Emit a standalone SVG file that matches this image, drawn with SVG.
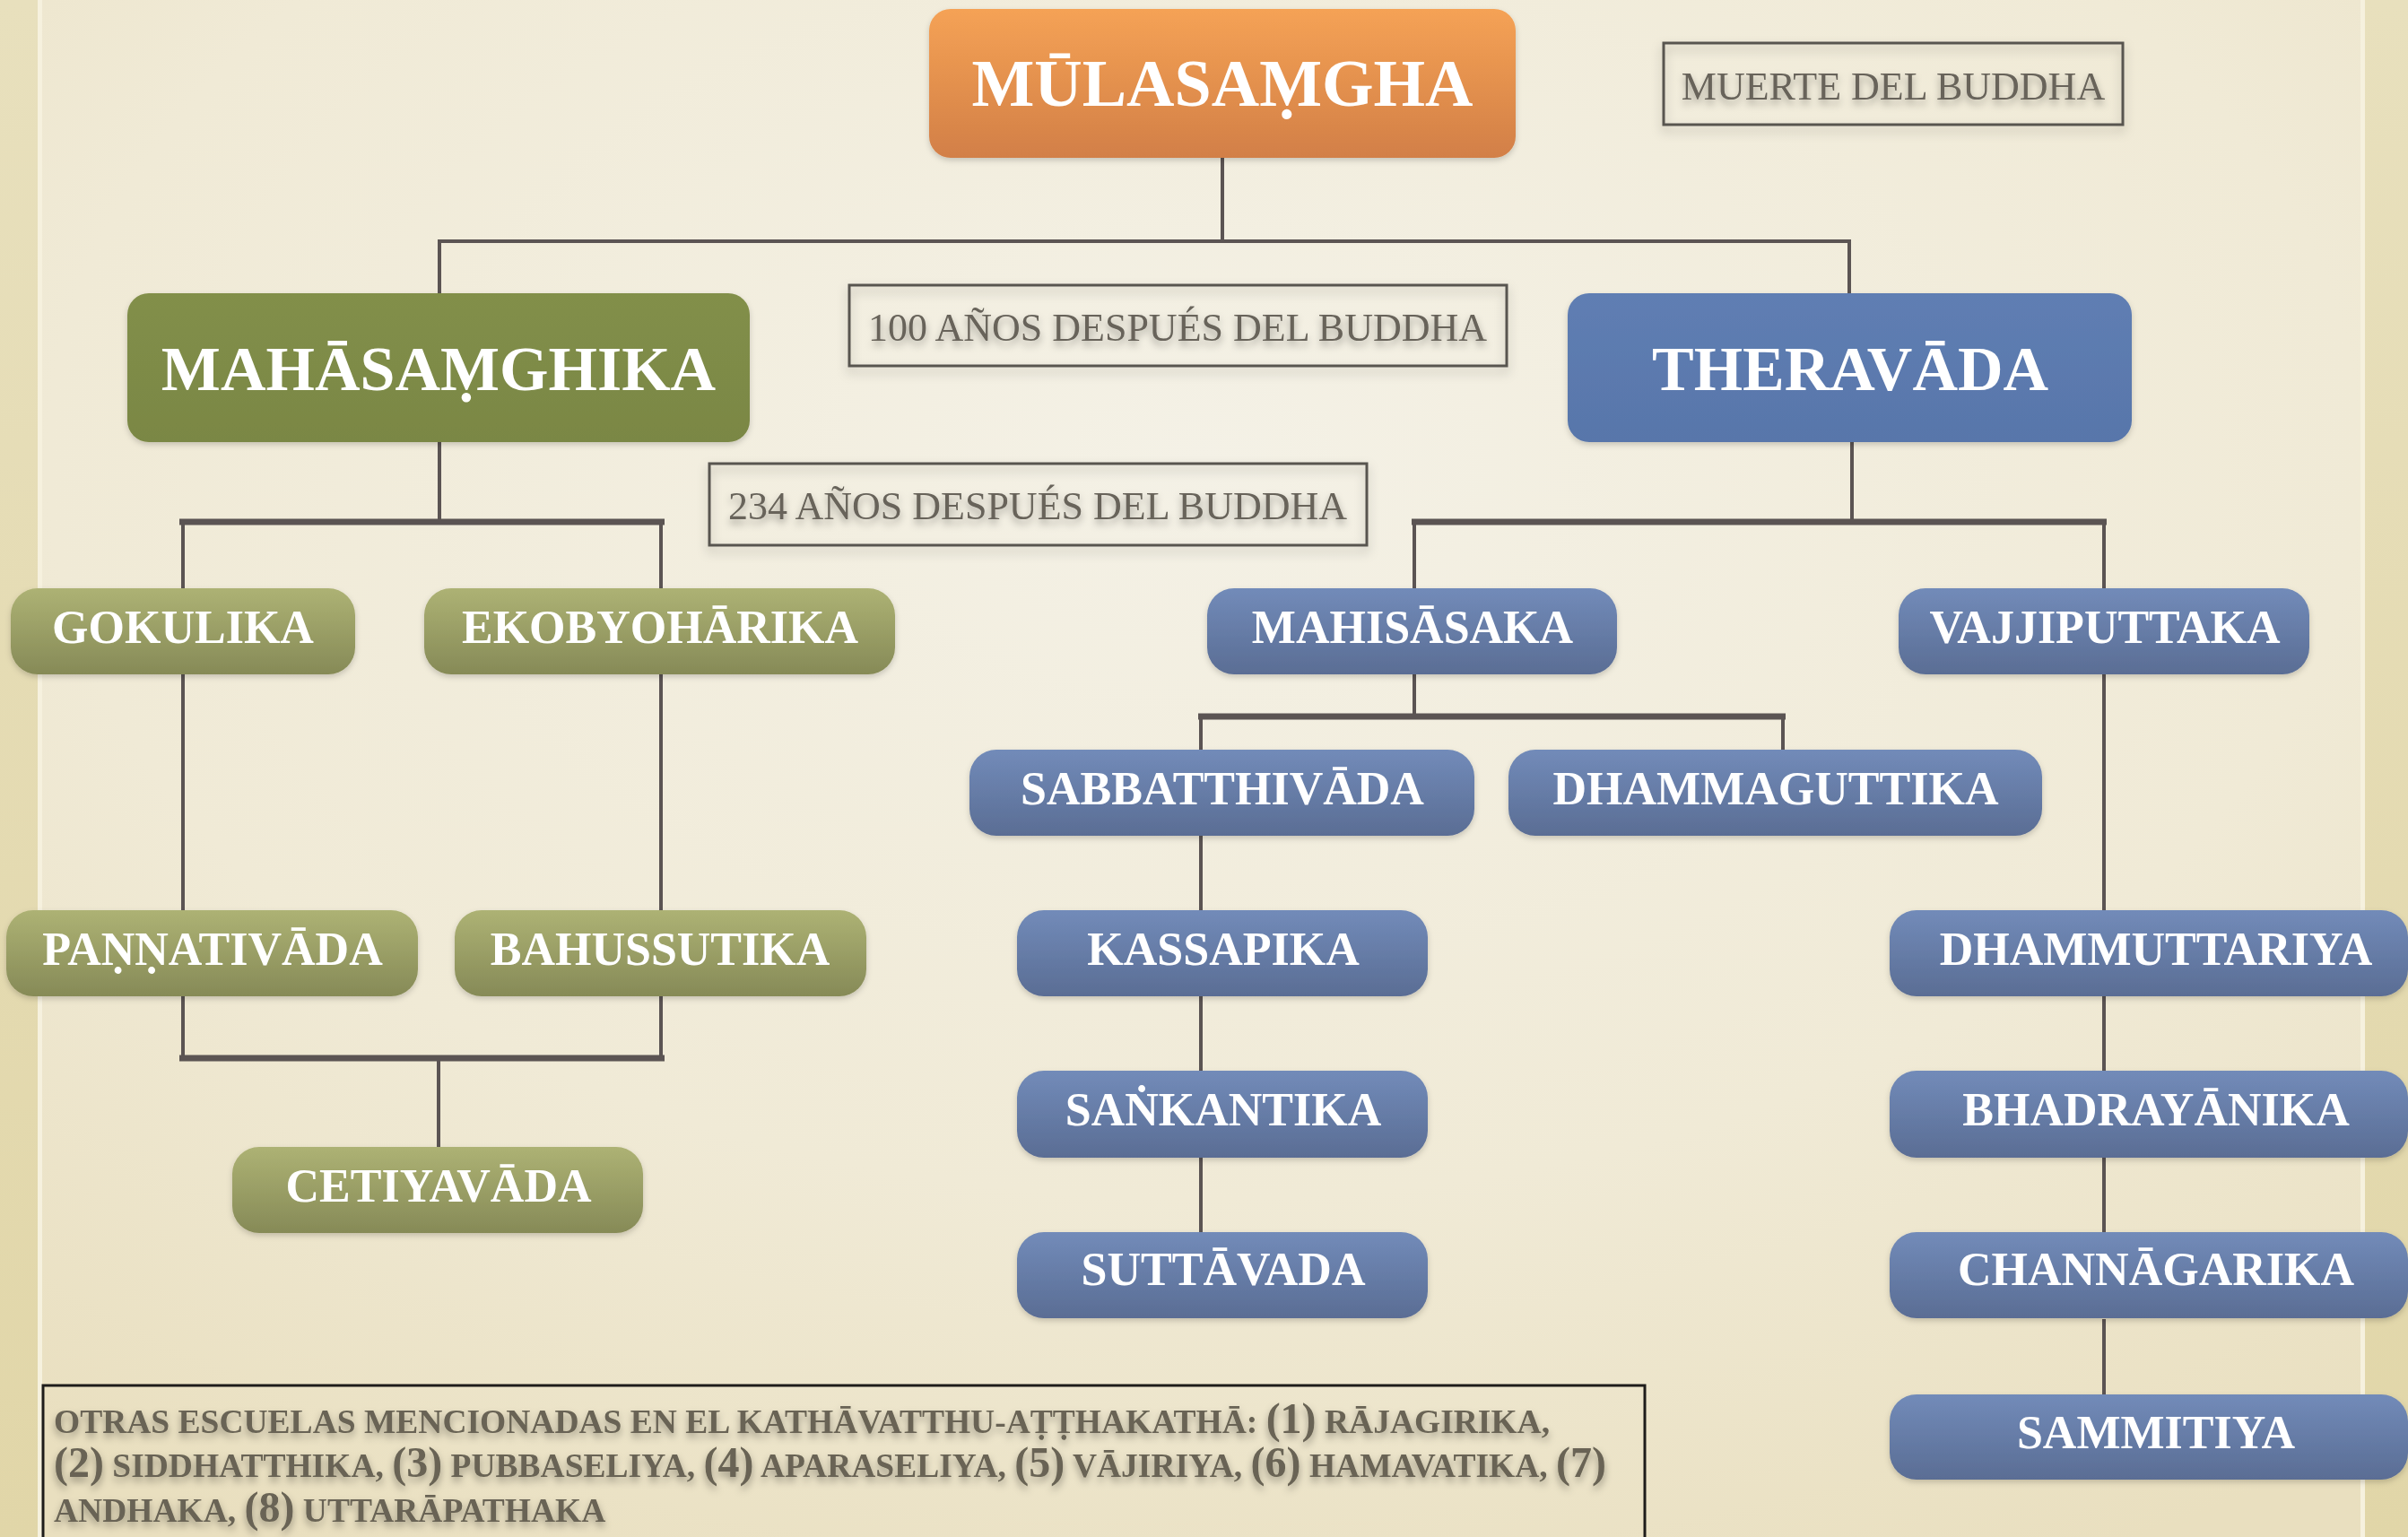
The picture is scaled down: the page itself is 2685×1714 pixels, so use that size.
<svg xmlns="http://www.w3.org/2000/svg" width="2685" height="1714" viewBox="0 0 2685 1714">
<defs>
<radialGradient id="bg" cx="0.5" cy="0.3" r="0.8">
<stop offset="0" stop-color="#f4f1e6"/>
<stop offset="0.6" stop-color="#f0ead6"/>
<stop offset="1" stop-color="#e9dfbf"/>
</radialGradient>
<linearGradient id="strip" x1="0" y1="0" x2="0" y2="1">
<stop offset="0" stop-color="#e8e0bd"/>
<stop offset="1" stop-color="#e1d6a8"/>
</linearGradient>
<linearGradient id="gO" x1="0" y1="0" x2="0" y2="1">
<stop offset="0" stop-color="#f5a255"/>
<stop offset="1" stop-color="#d27f47"/>
</linearGradient>
<linearGradient id="gG" x1="0" y1="0" x2="0" y2="1">
<stop offset="0" stop-color="#adb274"/>
<stop offset="1" stop-color="#868a57"/>
</linearGradient>
<linearGradient id="gB" x1="0" y1="0" x2="0" y2="1">
<stop offset="0" stop-color="#728bb9"/>
<stop offset="1" stop-color="#5a6d94"/>
</linearGradient>
<linearGradient id="gGB" x1="0" y1="0" x2="0" y2="1">
<stop offset="0" stop-color="#828f4a"/>
<stop offset="1" stop-color="#7a8744"/>
</linearGradient>
<linearGradient id="gBB" x1="0" y1="0" x2="0" y2="1">
<stop offset="0" stop-color="#5f7eb3"/>
<stop offset="1" stop-color="#5876aa"/>
</linearGradient>
<filter id="ts" x="-10%" y="-30%" width="120%" height="180%">
<feDropShadow dx="0" dy="5" stdDeviation="4" flood-color="#000" flood-opacity="0.35"/>
</filter>
<filter id="bs" x="-10%" y="-30%" width="120%" height="170%">
<feDropShadow dx="0" dy="6" stdDeviation="6" flood-color="#000" flood-opacity="0.25"/>
</filter>
<filter id="ns" x="-5%" y="-10%" width="110%" height="130%">
<feDropShadow dx="0" dy="3" stdDeviation="3" flood-color="#000" flood-opacity="0.18"/>
</filter>
</defs>
<style>
.conn { stroke:#5b5453; fill:none; stroke-width:4; }
.bus { stroke-width:7; }
.nt { font-family:"Liberation Serif","DejaVu Serif",serif; font-weight:bold; fill:#ffffff; text-anchor:middle; font-size:52px; }
.big { font-size:70px; }
.top { font-size:74px; }
.lbl { font-family:"Liberation Serif","DejaVu Serif",serif; font-size:44px; fill:#67635a; text-anchor:middle; filter:url(#ts); }
.lbox { fill:none; stroke:#58544f; stroke-width:3; filter:url(#bs); }
.g { fill:url(#gG); filter:url(#ns); }
.b { fill:url(#gB); filter:url(#ns); }
.note { font-family:"Liberation Serif","DejaVu Serif",serif; font-weight:bold; font-size:37.5px; fill:#696454; filter:url(#ts); }
.d { font-size:48px; }
</style>
<rect x="0" y="0" width="2685" height="1714" fill="url(#bg)"/>
<rect x="0" y="0" width="42" height="1714" fill="url(#strip)"/>
<rect x="42" y="0" width="5" height="1714" fill="#f6f1de"/>
<rect x="2637" y="0" width="48" height="1714" fill="url(#strip)"/>
<rect x="2632" y="0" width="5" height="1714" fill="#f6f1de"/>

<g id="connectors">
<path class="conn" d="M1363 176V269"/>
<path class="conn" d="M488 269H2064" stroke-width="6"/>
<path class="conn" d="M490 269V327M2062 269V327"/>
<path class="conn" d="M490 493V582"/>
<path class="conn bus" d="M200 582H741"/>
<path class="conn" d="M204 582V656M737 582V656"/>
<path class="conn" d="M204 752V1015M737 752V1015"/>
<path class="conn" d="M204 1111V1180M737 1111V1180"/>
<path class="conn bus" d="M200 1180H741"/>
<path class="conn" d="M489 1180V1279"/>
<path class="conn" d="M2065 493V582"/>
<path class="conn bus" d="M1574 582H2349"/>
<path class="conn" d="M1577 582V656M2346 582V656"/>
<path class="conn" d="M1577 752V799"/>
<path class="conn bus" d="M1336 799H1991"/>
<path class="conn" d="M1339 799V836M1988 799V836"/>
<path class="conn" d="M1339 932V1015M1339 1111V1194M1339 1291V1374"/>
<path class="conn" d="M2346 752V1015M2346 1111V1194M2346 1291V1374M2346 1471V1555"/>
</g>

<g id="n-mulasamgha">
<rect x="1036" y="10" width="654" height="166" rx="24" fill="url(#gO)" filter="url(#ns)"/>
<text class="nt top" x="1363" y="118">MŪLASAṂGHA</text>
</g>
<g id="l-muerte">
<rect class="lbox" x="1855" y="48" width="512" height="91"/>
<text class="lbl" x="2111" y="111">MUERTE DEL BUDDHA</text>
</g>
<g id="n-mahasamghika">
<rect x="142" y="327" width="694" height="166" rx="24" fill="url(#gGB)" filter="url(#ns)"/>
<text class="nt big" x="489" y="435">MAHĀSAṂGHIKA</text>
</g>
<g id="l-100">
<rect class="lbox" x="947" y="318" width="733" height="90"/>
<text class="lbl" x="1313" y="380">100 AÑOS DESPUÉS DEL BUDDHA</text>
</g>
<g id="n-theravada">
<rect x="1748" y="327" width="629" height="166" rx="24" fill="url(#gBB)" filter="url(#ns)"/>
<text class="nt big" x="2063" y="435">THERAVĀDA</text>
</g>
<g id="l-234">
<rect class="lbox" x="791" y="517" width="733" height="91"/>
<text class="lbl" x="1157" y="579">234 AÑOS DESPUÉS DEL BUDDHA</text>
</g>

<g id="n-gokulika"><rect class="g" x="12" y="656" width="384" height="96" rx="30"/><text class="nt" x="204" y="717">GOKULIKA</text></g>
<g id="n-ekobyoharika"><rect class="g" x="473" y="656" width="525" height="96" rx="30"/><text class="nt" x="736" y="717">EKOBYOHĀRIKA</text></g>
<g id="n-pannativada"><rect class="g" x="7" y="1015" width="459" height="96" rx="30"/><text class="nt" x="237" y="1076">PAṆṆATIVĀDA</text></g>
<g id="n-bahussutika"><rect class="g" x="507" y="1015" width="459" height="96" rx="30"/><text class="nt" x="736" y="1076">BAHUSSUTIKA</text></g>
<g id="n-cetiyavada"><rect class="g" x="259" y="1279" width="458" height="96" rx="30"/><text class="nt" x="489" y="1340">CETIYAVĀDA</text></g>

<g id="n-mahisasaka"><rect class="b" x="1346" y="656" width="457" height="96" rx="30"/><text class="nt" x="1575" y="717">MAHISĀSAKA</text></g>
<g id="n-vajjiputtaka"><rect class="b" x="2117" y="656" width="458" height="96" rx="30"/><text class="nt" x="2347" y="717">VAJJIPUTTAKA</text></g>
<g id="n-sabbatthivada"><rect class="b" x="1081" y="836" width="563" height="96" rx="30"/><text class="nt" x="1363" y="897">SABBATTHIVĀDA</text></g>
<g id="n-dhammaguttika"><rect class="b" x="1682" y="836" width="595" height="96" rx="30"/><text class="nt" x="1980" y="897">DHAMMAGUTTIKA</text></g>
<g id="n-kassapika"><rect class="b" x="1134" y="1015" width="458" height="96" rx="30"/><text class="nt" x="1364" y="1076">KASSAPIKA</text></g>
<g id="n-sankantika"><rect class="b" x="1134" y="1194" width="458" height="97" rx="30"/><text class="nt" x="1364" y="1255">SAṄKANTIKA</text></g>
<g id="n-suttavada"><rect class="b" x="1134" y="1374" width="458" height="96" rx="30"/><text class="nt" x="1364" y="1433">SUTTĀVADA</text></g>
<g id="n-dhammuttariya"><rect class="b" x="2107" y="1015" width="578" height="96" rx="30"/><text class="nt" x="2404" y="1076">DHAMMUTTARIYA</text></g>
<g id="n-bhadrayanika"><rect class="b" x="2107" y="1194" width="578" height="97" rx="30"/><text class="nt" x="2404" y="1255">BHADRAYĀNIKA</text></g>
<g id="n-channagarika"><rect class="b" x="2107" y="1374" width="578" height="96" rx="30"/><text class="nt" x="2404" y="1433">CHANNĀGARIKA</text></g>
<g id="n-sammitiya"><rect class="b" x="2107" y="1555" width="578" height="95" rx="30"/><text class="nt" x="2404" y="1615">SAMMITIYA</text></g>

<g id="note">
<rect x="48" y="1545" width="1786" height="180" fill="none" stroke="#1e1c1a" stroke-width="3"/>
<text class="note" x="60" y="1598">OTRAS ESCUELAS MENCIONADAS EN EL KATHĀVATTHU-AṬṬHAKATHĀ: <tspan class="d">(1)</tspan> RĀJAGIRIKA,</text>
<text class="note" x="60" y="1647"><tspan class="d">(2)</tspan> SIDDHATTHIKA, <tspan class="d">(3)</tspan> PUBBASELIYA, <tspan class="d">(4)</tspan> APARASELIYA, <tspan class="d">(5)</tspan> VĀJIRIYA, <tspan class="d">(6)</tspan> HAMAVATIKA, <tspan class="d">(7)</tspan></text>
<text class="note" x="60" y="1697">ANDHAKA, <tspan class="d">(8)</tspan> UTTARĀPATHAKA</text>
</g>
</svg>
